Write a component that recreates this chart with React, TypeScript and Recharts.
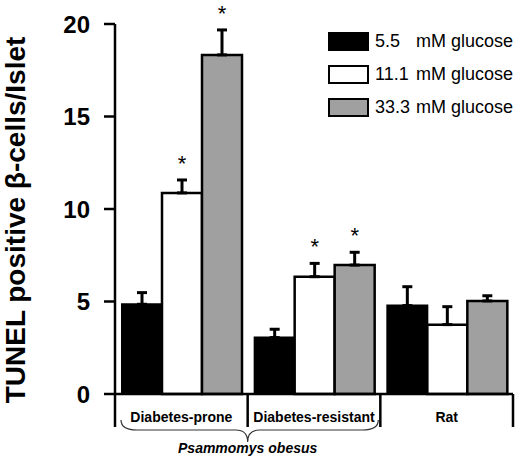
import React from "react";
import {
  BarChart,
  Bar,
  XAxis,
  YAxis,
  ErrorBar,
  LabelList,
  Legend,
} from "recharts";

const groups = ["Diabetes-prone", "Diabetes-resistant", "Rat"];
const seriesNames = ["5.5", "11.1", "33.3"];
const low = [4.85, 3.05, 4.78];
const mid = [10.87, 6.34, 3.75];
const high = [18.33, 6.97, 5.03];
const lowErr = [0.63, 0.45, 1.02];
const midErr = [0.7, 0.72, 0.97];
const highErr = [1.35, 0.69, 0.28];
const midSig = [true, true, false];
const highSig = [true, true, false];
const yTicks = [0, 5, 10, 15, 20];

const data = groups.map((g, i) => ({
  group: g,
  low: low[i],
  mid: mid[i],
  high: high[i],
  lowErr: [0, lowErr[i]],
  midErr: [0, midErr[i]],
  highErr: [0, highErr[i]],
}));

const FONT = "'Liberation Sans', Arial, Helvetica, sans-serif";

function XTick(props: any) {
  const { x, y, payload, index, width } = props;
  const band = (width || 398) / groups.length;
  const left = x - band / 2;
  const right = x + band / 2;
  return (
    <g>
      <line x1={left} y1={y} x2={left} y2={y + 33} stroke="#000" strokeWidth={2.5} />
      {index === groups.length - 1 && (
        <line x1={right} y1={y} x2={right} y2={y + 33} stroke="#000" strokeWidth={2.5} />
      )}
      <text
        x={x}
        y={y + 28}
        textAnchor="middle"
        fontFamily={FONT}
        fontWeight="bold"
        fontSize={14}
        fill="#000"
      >
        {payload.value}
      </text>
      {index === 0 && (() => {
        const x0 = left + 6;
        const x1 = x + band * 1.5 - 2;
        const tip = right;
        const y0 = y + 26;
        const y1 = y + 36;
        const y2 = y + 48;
        const d = `M${x0},${y0} Q${x0},${y1} ${x0 + 16},${y1} L${tip - 12},${y1} Q${tip},${y1} ${tip},${y2} Q${tip},${y1} ${tip + 12},${y1} L${x1 - 16},${y1} Q${x1},${y1} ${x1},${y0}`;
        return (
          <g>
            <path d={d} fill="none" stroke="#333" strokeWidth={1.2} />
            <text
              x={tip}
              y={y + 59}
              textAnchor="middle"
              fontFamily={FONT}
              fontWeight="bold"
              fontStyle="italic"
              fontSize={14}
              fill="#000"
            >
              Psammomys obesus
            </text>
          </g>
        );
      })()}
    </g>
  );
}

function makeStar(errs: number[], sig: boolean[]) {
  return (props: any) => {
    const { x, y, width, height, value, index } = props;
    if (!sig[index] || !value) return null;
    const perUnit = height / value;
    const top = y - errs[index] * perUnit;
    return (
      <text
        x={x + width / 2}
        y={top - 9}
        textAnchor="middle"
        fontFamily={FONT}
        fontSize={22}
        fill="#000"
      >
        *
      </text>
    );
  };
}

function LegendBox(props: any) {
  const { payload } = props;
  return (
    <div style={{ fontFamily: FONT, fontSize: 18, color: "#000" }}>
      {(payload || []).map((p: any, i: number) => (
        <div
          key={i}
          style={{ display: "flex", alignItems: "center", height: 33, position: "relative" }}
        >
          <div
            style={{
              width: 37,
              height: 15,
              border: "2px solid #000",
              background: p.color,
            }}
          />
          <span style={{ position: "absolute", left: 47 }}>{p.value}</span>
          <span style={{ position: "absolute", left: 88 }}>mM glucose</span>
        </div>
      ))}
    </div>
  );
}

export default function App() {
  return (
    <div style={{ position: "absolute", left: 0, top: 0, background: "#fff" }}>
      <BarChart
        width={520}
        height={459}
        data={data}
        margin={{ top: 24, right: 7, bottom: 0, left: 0 }}
        barCategoryGap={7}
        barGap={0}
      >
        <YAxis
          width={115}
          domain={[0, 20]}
          ticks={yTicks}
          interval={0}
          tickSize={11}
          tickMargin={14}
          axisLine={{ stroke: "#000", strokeWidth: 2.5 }}
          tickLine={{ stroke: "#000", strokeWidth: 2.5 }}
          tick={{ fill: "#000", fontSize: 24, fontWeight: "bold", fontFamily: FONT }}
          label={(p: any) => (
            <text
              transform="translate(25,220) rotate(-90)"
              textAnchor="middle"
              fontFamily={FONT}
              fontWeight="bold"
              fontSize={28}
              fill="#000"
            >
              TUNEL positive β-cells/Islet
            </text>
          )}
        />
        <XAxis
          dataKey="group"
          height={65}
          interval={0}
          tickSize={0}
          tickMargin={0}
          tickLine={false}
          axisLine={{ stroke: "#000", strokeWidth: 2.5 }}
          tick={<XTick />}
        />
        <Legend
          layout="vertical"
          align="center"
          verticalAlign="middle"
          itemSorter={(item: any) => seriesNames.indexOf(item.value)}
          content={<LegendBox />}
          wrapperStyle={{ position: "absolute", left: 328, top: 25, width: 190 }}
        />
        <Bar
          dataKey="low"
          name={seriesNames[0]}
          fill="#000"
          stroke="#000"
          strokeWidth={2}
          isAnimationActive={false}
        >
          <ErrorBar dataKey="lowErr" width={5} stroke="#000" strokeWidth={3} />
        </Bar>
        <Bar
          dataKey="mid"
          name={seriesNames[1]}
          fill="#fff"
          stroke="#000"
          strokeWidth={2.5}
          isAnimationActive={false}
        >
          <ErrorBar dataKey="midErr" width={5} stroke="#000" strokeWidth={3} />
          <LabelList dataKey="mid" content={makeStar(midErr, midSig)} />
        </Bar>
        <Bar
          dataKey="high"
          name={seriesNames[2]}
          fill="#a0a0a0"
          stroke="#000"
          strokeWidth={2.5}
          isAnimationActive={false}
        >
          <ErrorBar dataKey="highErr" width={5} stroke="#000" strokeWidth={3} />
          <LabelList dataKey="high" content={makeStar(highErr, highSig)} />
        </Bar>
      </BarChart>
    </div>
  );
}
